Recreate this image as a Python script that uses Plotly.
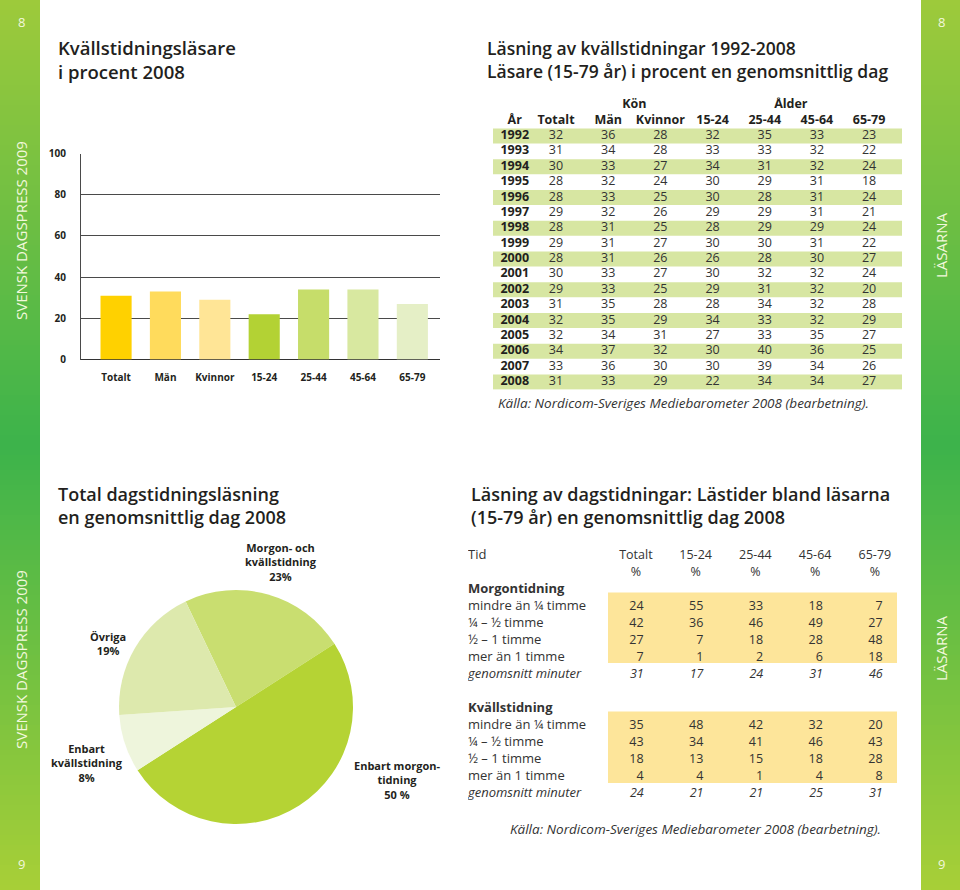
import plotly.graph_objects as go

W, H = 960, 890

# ---------------- data ----------------
bar_categories = ["Totalt", "Män", "Kvinnor", "15-24", "25-44", "45-64", "65-79"]
bar_values_2008 = [31, 33, 29, 22, 34, 34, 27]
bar_colors = ["#ffd100", "#ffdb5c", "#ffe596", "#b3d234", "#c6dd6a", "#d8e8a0", "#e5efc6"]
y_ticks = [0, 20, 40, 60, 80, 100]

years = list(range(1992, 2009))
totalt = [32, 31, 30, 28, 28, 29, 28, 29, 28, 30, 29, 31, 32, 32, 34, 33, 31]
man = [36, 34, 33, 32, 33, 32, 31, 31, 31, 33, 33, 35, 35, 34, 37, 36, 33]
kvinnor = [28, 28, 27, 24, 25, 26, 25, 27, 26, 27, 25, 28, 29, 31, 32, 30, 29]
a15_24 = [32, 33, 34, 30, 30, 29, 28, 30, 26, 30, 29, 28, 34, 27, 30, 30, 22]
a25_44 = [35, 33, 31, 29, 28, 29, 29, 30, 28, 32, 31, 34, 33, 33, 40, 39, 34]
a45_64 = [33, 32, 32, 31, 31, 31, 29, 31, 30, 32, 32, 32, 32, 35, 36, 34, 34]
a65_79 = [23, 22, 24, 18, 24, 21, 24, 22, 27, 24, 20, 28, 29, 27, 25, 26, 27]
table1_cols = ["Totalt", "Män", "Kvinnor", "15-24", "25-44", "45-64", "65-79"]
table1_groups = ["Kön", "Ålder"]

pie_labels = ["Morgon- och kvällstidning", "Enbart morgontidning", "Enbart kvällstidning", "Övriga"]
pie_values = [23, 50, 8, 19]
pie_colors = ["#c9de70", "#b5d334", "#eef5dc", "#dde9ad"]
pie_texts = ["Morgon- och<br>kvällstidning<br>23%", "Enbart morgon-<br>tidning<br>50 %",
             "Enbart<br>kvällstidning<br>8%", "Övriga<br>19%"]

time_cols = ["Totalt", "15-24", "25-44", "45-64", "65-79"]
time_rows = ["mindre än ¼ timme", "¼ – ½ timme", "½ – 1 timme", "mer än 1 timme"]
avg_label = "genomsnitt minuter"
morgon = [[24, 55, 33, 18, 7], [42, 36, 46, 49, 27], [27, 7, 18, 28, 48], [7, 1, 2, 6, 18]]
morgon_avg = [31, 17, 24, 31, 46]
kvall = [[35, 48, 42, 32, 20], [43, 34, 41, 46, 43], [18, 13, 15, 18, 28], [4, 4, 1, 4, 8]]
kvall_avg = [24, 21, 21, 25, 31]

source = "Källa: Nordicom-Sveriges Mediebarometer 2008 (bearbetning)."

FONT = "Open Sans"
DARK = "#231f20"


def px(x):
    return x / W


def py(y):
    return 1 - y / H


fig = go.Figure()

# ---------------- bar chart ----------------
fig.add_trace(go.Bar(x=bar_categories, y=bar_values_2008, marker=dict(color=bar_colors, line=dict(width=0)),
                     width=0.63, xaxis="x", yaxis="y", hoverinfo="skip", showlegend=False))

# ---------------- top table ----------------
t1_series = [totalt, man, kvinnor, a15_24, a25_44, a45_64, a65_79]
tx, ty, tt = [], [], []
for j, s in enumerate(t1_series):
    for i, v in enumerate(s):
        tx.append(j)
        ty.append(i)
        tt.append(str(v))
fig.add_trace(go.Scatter(x=tx, y=ty, text=tt, mode="text", textfont=dict(family=FONT, size=12.5, color="#333"),
                         xaxis="x2", yaxis="y2", hoverinfo="skip", showlegend=False))
YEAR_COL = -0.79
fig.add_trace(go.Scatter(x=[YEAR_COL] * len(years), y=list(range(len(years))),
                         text=["<b>%d</b>" % y for y in years], mode="text",
                         textfont=dict(family=FONT, size=12.5, color=DARK),
                         xaxis="x2", yaxis="y2", hoverinfo="skip", showlegend=False))
hx = [YEAR_COL] + list(range(len(table1_cols))) + [1.5, 4.5]
hy = [-1] * (len(table1_cols) + 1) + [-2, -2]
ht = ["<b>År</b>"] + ["<b>%s</b>" % c for c in table1_cols] + ["<b>%s</b>" % g for g in table1_groups]
fig.add_trace(go.Scatter(x=hx, y=hy, text=ht, mode="text", textfont=dict(family=FONT, size=12.5, color=DARK),
                         xaxis="x2", yaxis="y2", hoverinfo="skip", showlegend=False))

# ---------------- pie ----------------
fig.add_trace(go.Pie(labels=pie_labels, values=pie_values, marker=dict(colors=pie_colors, line=dict(width=0)),
                     sort=False, direction="clockwise", rotation=-25.5, textinfo="none", hoverinfo="skip",
                     domain=dict(x=[px(118), px(354)], y=[py(824), py(590)]), showlegend=False))

# ---------------- bottom table ----------------
NUM_OFF = 0.13
bx, by, bt = [], [], []
for block, avg, r0 in [(morgon, morgon_avg, 3), (kvall, kvall_avg, 10)]:
    for k, row in enumerate(block):
        for j, v in enumerate(row):
            bx.append(j + NUM_OFF)
            by.append(r0 + k)
            bt.append(str(v))
    for j, v in enumerate(avg):
        bx.append(j + NUM_OFF)
        by.append(r0 + len(block))
        bt.append("<i>%d</i>" % v)
fig.add_trace(go.Scatter(x=bx, y=by, text=bt, mode="text", textposition="middle left",
                         textfont=dict(family=FONT, size=12.5, color="#333"),
                         xaxis="x3", yaxis="y3", hoverinfo="skip", showlegend=False))
# header
fig.add_trace(go.Scatter(x=list(range(len(time_cols))) * 2, y=[0] * len(time_cols) + [1] * len(time_cols),
                         text=time_cols + ["%"] * len(time_cols), mode="text",
                         textfont=dict(family=FONT, size=12.5, color="#333"),
                         xaxis="x3", yaxis="y3", hoverinfo="skip", showlegend=False))
LABEL_X = -2.81
lab_y = [0, 2] + [3 + k for k in range(len(time_rows))] + [7, 9] + [10 + k for k in range(len(time_rows))] + [14]
lab_t = (["Tid", "<b>Morgontidning</b>"] + time_rows + ["<i>%s</i>" % avg_label, "<b>Kvällstidning</b>"]
         + time_rows + ["<i>%s</i>" % avg_label])
fig.add_trace(go.Scatter(x=[LABEL_X] * len(lab_y), y=lab_y, text=lab_t, mode="text", textposition="middle right",
                         textfont=dict(family=FONT, size=13, color="#333"),
                         xaxis="x3", yaxis="y3", hoverinfo="skip", showlegend=False))

# ---------------- shapes ----------------
shapes = []


def lerp(c1, c2, t):
    return "rgb(%d,%d,%d)" % tuple(round(a + (b - a) * t) for a, b in zip(c1, c2))


stops = [(0, (158, 202, 59)), (445, (60, 179, 75)), (890, (168, 207, 55))]
step = 5
for y0 in range(0, H, step):
    yc = y0 + step / 2
    if yc <= stops[1][0]:
        c = lerp(stops[0][1], stops[1][1], (yc - stops[0][0]) / (stops[1][0] - stops[0][0]))
    else:
        c = lerp(stops[1][1], stops[2][1], (yc - stops[1][0]) / (stops[2][0] - stops[1][0]))
    for xa, xb in [(0, 40), (921, 960)]:
        shapes.append(dict(type="rect", xref="paper", yref="paper", x0=px(xa), x1=px(xb),
                           y0=py(min(y0 + step + 0.5, H)), y1=py(y0), fillcolor=c, line=dict(width=0),
                           layer="below"))

for i in range(0, len(years), 2):
    shapes.append(dict(type="rect", xref="x2 domain", yref="y2", x0=0, x1=1, y0=i - 0.49, y1=i + 0.49,
                       fillcolor="#d7e6a2", line=dict(width=0), layer="below"))
for r0, r1 in [(2.15, 6.3), (9.15, 13.35)]:
    shapes.append(dict(type="rect", xref="x3 domain", yref="y3", x0=(608 - 468) / (897 - 468), x1=1,
                       y0=r0, y1=r1, fillcolor="#fde59a", line=dict(width=0), layer="below"))

# ---------------- annotations ----------------
ann = []


def text(x, y, s, size=12, color=DARK, weight="normal", xanchor="left", angle=0, style="normal", align="left"):
    ann.append(dict(x=px(x), y=py(y), xref="paper", yref="paper", text=s, showarrow=False, xanchor=xanchor,
                    yanchor="middle", textangle=angle, align=align,
                    font=dict(family=FONT, size=size, color=color, weight=weight, style=style)))


text(56, 59, "Kvällstidningsläsare<br>i procent 2008", size=18.5, weight=600)
text(485, 60, "Läsning av kvällstidningar 1992-2008<br>Läsare (15-79 år) i procent en genomsnittlig dag",
     size=17.5, weight=600)
text(496, 403, source, size=13.5, color="#333", style="italic")
text(56, 505, "Total dagstidningsläsning<br>en genomsnittlig dag 2008", size=18, weight=600)
text(469, 505, "Läsning av dagstidningar: Lästider bland läsarna<br>(15-79 år) en genomsnittlig dag 2008",
     size=18, weight=600)
text(508, 829, source, size=13.5, color="#333", style="italic")

for (x, y), s in zip([(281, 562), (397, 780), (87, 763), (108, 643)], pie_texts):
    text(x, y, s, size=11, weight="bold", xanchor="center", align="center")

side = "#f2f8dc"
text(21, 231, "SVENSK DAGSPRESS 2009", size=15, color=side, xanchor="center", angle=-90)
text(21, 660, "SVENSK DAGSPRESS 2009", size=15, color=side, xanchor="center", angle=-90)
text(941, 245, "LÄSARNA", size=15, color=side, xanchor="center", angle=-90)
text(941, 648, "LÄSARNA", size=15, color=side, xanchor="center", angle=-90)
text(21, 22, "8", size=13, color=side, xanchor="center")
text(941, 22, "8", size=13, color=side, xanchor="center")
text(21, 864, "9", size=13, color=side, xanchor="center")
text(941, 864, "9", size=13, color=side, xanchor="center")

# ---------------- layout ----------------
ROW1 = 15.375
ROW1_Y0 = 136
ROW2 = 17
ROW2_Y0 = 556

fig.update_layout(
    width=W, height=H, margin=dict(l=0, r=0, t=0, b=0, pad=0, autoexpand=False),
    paper_bgcolor="white", plot_bgcolor="rgba(0,0,0,0)",
    font=dict(family=FONT, color=DARK),
    bargap=0.37,
    xaxis=dict(domain=[px(81), px(440)], range=[-0.71, 6.56], showgrid=False, zeroline=False, showline=False,
               ticks="", tickfont=dict(family=FONT, size=10, color=DARK, weight="bold"), ticklabelstandoff=10,
               fixedrange=True, automargin=False),
    yaxis=dict(domain=[py(359.5), py(153.5)], range=[0, 100], tickvals=y_ticks, showgrid=True,
               gridcolor="#4a4a4a", gridwidth=1, zeroline=True, zerolinecolor="#333", zerolinewidth=1.3,
               showline=True, linecolor="#4a4a4a", linewidth=1, ticks="",
               tickfont=dict(family=FONT, size=10, color=DARK, weight="bold"), ticklabelstandoff=12,
               fixedrange=True, automargin=False),
    xaxis2=dict(domain=[px(493), px(902)], range=[-1.207, 6.63], visible=False, fixedrange=True,
                automargin=False),
    yaxis2=dict(domain=[py(ROW1_Y0 + 16.5 * ROW1), py(ROW1_Y0 - 2.5 * ROW1)], range=[16.5, -2.5],
                visible=False, fixedrange=True, automargin=False),
    xaxis3=dict(domain=[px(468), px(897)], range=[LABEL_X, 4.37], visible=False, fixedrange=True,
                automargin=False),
    yaxis3=dict(domain=[py(ROW2_Y0 + 14.5 * ROW2), py(ROW2_Y0 - 0.5 * ROW2)], range=[14.5, -0.5],
                visible=False, fixedrange=True, automargin=False),
    shapes=shapes,
    annotations=ann,
)

fig.write_html("out.html", config={"displayModeBar": False},
               post_script="document.documentElement.style.margin='0';document.body.style.margin='0';"
                           "document.body.style.padding='0';document.body.style.overflow='hidden';")
